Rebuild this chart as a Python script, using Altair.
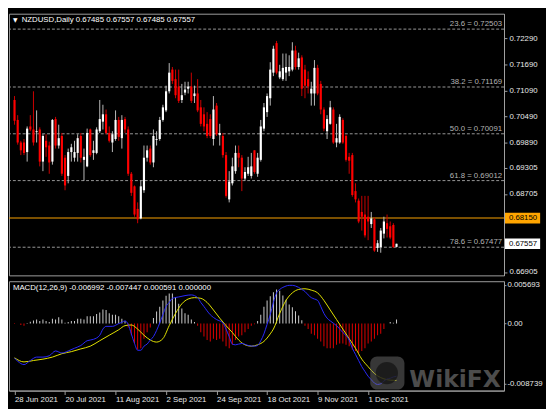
import json
import altair as alt
import pandas as pd

# ---------------- data ----------------
open_ = [
    0.7087, 0.7041, 0.6989, 0.6989, 0.6967, 0.7026, 0.7019, 0.7013, 0.7019, 0.6945,
    0.6993, 0.6982, 0.6945, 0.7043, 0.6982, 0.7004, 0.6954, 0.6912, 0.6967, 0.6954,
    0.6965, 0.7004, 0.6949, 0.6934, 0.7019, 0.6965, 0.6965, 0.7015, 0.7037, 0.7054,
    0.7011, 0.6989, 0.6997, 0.7041, 0.6999, 0.7043, 0.7019, 0.6917, 0.6888, 0.6836,
    0.6814, 0.6879, 0.6954, 0.6975, 0.6943, 0.6995, 0.6997, 0.7041, 0.7063, 0.7107,
    0.7157, 0.7135, 0.7118, 0.7087, 0.7104, 0.7113, 0.7118, 0.7096, 0.7102, 0.7070,
    0.7054, 0.7032, 0.7043, 0.6997, 0.7074, 0.7006, 0.7004, 0.6960, 0.6858, 0.6895,
    0.6923, 0.6965, 0.6954, 0.6906, 0.6917, 0.6912, 0.6971, 0.6917, 0.6949, 0.7021,
    0.7059, 0.7091, 0.7150, 0.7218, 0.7139, 0.7135, 0.7150, 0.7153, 0.7157, 0.7201,
    0.7163, 0.7185, 0.7157, 0.7135, 0.7102, 0.7102, 0.7161, 0.7124, 0.7065, 0.7015,
    0.7032, 0.7065, 0.6989, 0.6989, 0.7041, 0.7004, 0.6956, 0.6960, 0.6877, 0.6855,
    0.6829, 0.6823, 0.6818, 0.6801, 0.6812, 0.6746, 0.6748, 0.6779, 0.6803, 0.6796,
    0.6799, 0.67485]
high_ = [
    0.7096, 0.7052, 0.6993, 0.6997, 0.7026, 0.7052, 0.7107, 0.7063, 0.7024, 0.7008,
    0.7008, 0.6991, 0.7043, 0.7048, 0.7030, 0.7011, 0.6960, 0.6975, 0.6986, 0.6993,
    0.7008, 0.7011, 0.6975, 0.7021, 0.7021, 0.6993, 0.7024, 0.7087, 0.7076, 0.7065,
    0.7026, 0.7015, 0.7063, 0.7048, 0.7052, 0.7048, 0.7026, 0.6921, 0.6890, 0.6851,
    0.6901, 0.6982, 0.6982, 0.6982, 0.7019, 0.7015, 0.7048, 0.7076, 0.7120, 0.7172,
    0.7163, 0.7157, 0.7157, 0.7124, 0.7129, 0.7129, 0.7150, 0.7120, 0.7135, 0.7087,
    0.7070, 0.7059, 0.7054, 0.7096, 0.7080, 0.7032, 0.7011, 0.6967, 0.6923, 0.6954,
    0.6982, 0.6982, 0.6960, 0.6932, 0.6956, 0.6965, 0.6971, 0.6965, 0.7041, 0.7080,
    0.7102, 0.7174, 0.7212, 0.7223, 0.7168, 0.7194, 0.7194, 0.7190, 0.7220, 0.7212,
    0.7196, 0.7190, 0.7168, 0.7153, 0.7129, 0.7179, 0.7168, 0.7131, 0.7070, 0.7052,
    0.7085, 0.7070, 0.7032, 0.7054, 0.7045, 0.7008, 0.6965, 0.6965, 0.6895, 0.6860,
    0.6866, 0.6866, 0.6866, 0.6829, 0.6816, 0.6764, 0.6792, 0.6818, 0.6823, 0.6807,
    0.6803, 0.67557]
low_ = [
    0.7030, 0.6984, 0.6960, 0.6960, 0.6945, 0.7015, 0.6982, 0.6989, 0.6934, 0.6923,
    0.6956, 0.6917, 0.6938, 0.6975, 0.6975, 0.6912, 0.6879, 0.6895, 0.6945, 0.6945,
    0.6945, 0.6943, 0.6901, 0.6932, 0.6956, 0.6949, 0.6962, 0.7011, 0.7019, 0.7008,
    0.6989, 0.6967, 0.6993, 0.6993, 0.6975, 0.7011, 0.6912, 0.6866, 0.6818, 0.6803,
    0.6812, 0.6873, 0.6945, 0.6938, 0.6932, 0.6982, 0.6993, 0.7037, 0.7059, 0.7102,
    0.7124, 0.7091, 0.7080, 0.7080, 0.7098, 0.7102, 0.7080, 0.7080, 0.7059, 0.7026,
    0.7015, 0.6999, 0.6999, 0.6982, 0.7004, 0.6982, 0.6954, 0.6862, 0.6851, 0.6890,
    0.6917, 0.6932, 0.6877, 0.6901, 0.6912, 0.6906, 0.6917, 0.6910, 0.6945, 0.7015,
    0.7048, 0.7074, 0.7142, 0.7146, 0.7135, 0.7131, 0.7131, 0.7142, 0.7153, 0.7157,
    0.7157, 0.7096, 0.7091, 0.7102, 0.7074, 0.7074, 0.7098, 0.7054, 0.7015, 0.6997,
    0.7030, 0.6986, 0.6978, 0.6986, 0.6986, 0.6945, 0.6917, 0.6864, 0.6851, 0.6803,
    0.6786, 0.6770, 0.6764, 0.6792, 0.6737, 0.6737, 0.6735, 0.6768, 0.6770, 0.6766,
    0.6746, 0.67485]
close_ = [
    0.7039, 0.6989, 0.6971, 0.6965, 0.7021, 0.7019, 0.6989, 0.7015, 0.6945, 0.7004,
    0.6978, 0.6943, 0.7041, 0.6982, 0.6999, 0.6917, 0.6890, 0.6967, 0.6978, 0.6967,
    0.6999, 0.6954, 0.6956, 0.7011, 0.6960, 0.6971, 0.7019, 0.7043, 0.7054, 0.7011,
    0.6993, 0.7008, 0.7041, 0.7002, 0.7041, 0.7019, 0.6917, 0.6873, 0.6823, 0.6812,
    0.6888, 0.6954, 0.6971, 0.6943, 0.7004, 0.6997, 0.7041, 0.7070, 0.7107, 0.7150,
    0.7131, 0.7098, 0.7085, 0.7098, 0.7111, 0.7118, 0.7085, 0.7102, 0.7063, 0.7032,
    0.7026, 0.7004, 0.7004, 0.7065, 0.7008, 0.7011, 0.6960, 0.6866, 0.6899, 0.6934,
    0.6965, 0.6954, 0.6906, 0.6921, 0.6932, 0.6934, 0.6921, 0.6954, 0.7026, 0.7070,
    0.7096, 0.7157, 0.7205, 0.7150, 0.7153, 0.7161, 0.7163, 0.7163, 0.7201, 0.7163,
    0.7183, 0.7113, 0.7120, 0.7118, 0.7113, 0.7161, 0.7102, 0.7065, 0.7021, 0.7043,
    0.7070, 0.6989, 0.6999, 0.7048, 0.6989, 0.6949, 0.6947, 0.6868, 0.6858, 0.6807,
    0.6818, 0.6775, 0.6807, 0.6814, 0.6740, 0.6757, 0.6786, 0.6807, 0.6790, 0.6770,
    0.6748, 0.67557]

hist_ = [
    -0.00005, 0.0, -0.0002, -0.0003, 0.0001, 0.00028, 0.00046, 0.0006, 0.00037, 0.0006,
    0.00037, 0.00023, 0.0007, 0.0006, 0.00093, 0.0006, 0.00014, 0.00023, 0.00037, 0.00037,
    0.0007, 0.0007, 0.0006, 0.00106, 0.00106, 0.00106, 0.00139, 0.00162, 0.00208, 0.002,
    0.00153, 0.0013, 0.0013, 0.00106, 0.0007, 0.00037, -0.00056, -0.0017, -0.0029, -0.0038,
    -0.0036, -0.0022, -0.00125, -0.00056, 0.00083, 0.00176, 0.00245, 0.00338, 0.00407, 0.0044,
    0.0044, 0.00384, 0.00292, 0.00222, 0.00153, 0.0013, 0.0006, 0.00023, -0.00032, -0.00125,
    -0.0019, -0.0024, -0.0026, -0.0022, -0.0024, -0.0022, -0.0026, -0.0033, -0.0036, -0.0031,
    -0.0024, -0.0019, -0.0017, -0.00125, -0.0008, -0.00032, -0.0001, 0.00037, 0.0013, 0.00245,
    0.0034, 0.0040, 0.0046, 0.0050, 0.0048, 0.0041, 0.0035, 0.0028, 0.0024, 0.0018,
    0.0012, 0.0005, -0.00032, -0.0008, -0.0015, -0.0017, -0.0022, -0.0026, -0.0033, -0.0036,
    -0.0036, -0.0036, -0.0031, -0.0029, -0.0029, -0.0031, -0.0033, -0.0038, -0.0040, -0.0043,
    -0.0040, -0.0036, -0.0029, -0.0026, -0.0022, -0.0017, -0.0015, -0.0008, 0.0, 0.00023,
    0.00014, 0.00059]

macd_idx = [0, 1, 3, 5, 7, 9, 11, 13, 15, 17, 19, 21, 23, 25, 27, 28, 29, 31, 33, 34,
            35, 36, 37, 38, 39, 40, 41, 42, 43, 44, 45, 46, 47, 48, 49, 50, 52, 54, 56, 58,
            59, 60, 62, 64, 66, 67, 68, 69, 70, 72, 74, 76, 77, 78, 79, 80, 81, 82, 83, 84,
            85, 86, 87, 88, 89, 90, 91, 92, 93, 94, 95, 96, 97, 98, 99, 100, 102, 104, 106, 107,
            108, 109, 110, 111, 112, 113, 114, 115, 116, 117, 118, 119, 120, 121]
macd_val = [-0.00505, -0.0055, -0.0060, -0.0054, -0.0049, -0.0049, -0.0047, -0.0040, -0.0043, -0.0040,
            -0.0036, -0.0032, -0.0025, -0.0023, -0.0017, -0.0008, -0.0004, -0.0004, 0.0, 0.0002,
            0.0004, -0.0001, -0.0015, -0.0029, -0.0039, -0.0039, -0.0033, -0.0030, -0.0024, -0.0019,
            -0.0010, 0.0001, 0.0013, 0.0025, 0.0031, 0.0037, 0.0039, 0.0041, 0.0042, 0.0038,
            0.0031, 0.0025, 0.0013, 0.0006, 0.0001, -0.0008, -0.0019, -0.0030, -0.0031, -0.0029,
            -0.0032, -0.0033, -0.0032, -0.0025, -0.0015, -0.0001, 0.0013, 0.0031, 0.0045, 0.0050,
            0.0053, 0.0055, 0.0056, 0.0056, 0.0055, 0.0053, 0.0050, 0.0047, 0.0042, 0.0038,
            0.0036, 0.0034, 0.0025, 0.0015, 0.0008, 0.0004, -0.0003, -0.0013, -0.0024, -0.0036,
            -0.0045, -0.0054, -0.0063, -0.0070, -0.0077, -0.0082, -0.0087, -0.0089, -0.0088, -0.0084,
            -0.0081, -0.0080, -0.0078, -0.0077]

sig_idx = [0, 3, 6, 9, 12, 15, 18, 21, 24, 27, 30, 33, 35, 37, 39, 41, 43, 45, 47, 49,
           51, 53, 55, 57, 59, 61, 63, 65, 67, 69, 71, 73, 75, 77, 79, 81, 82, 84, 86, 88,
           90, 92, 94, 96, 98, 100, 102, 104, 106, 108, 110, 112, 114, 116, 118, 120, 121]
sig_val = [-0.0050, -0.0056, -0.0054, -0.0052, -0.0049, -0.0044, -0.0041, -0.0037, -0.0033, -0.0025,
           -0.0017, -0.0009, -0.0003, -0.0002, -0.0008, -0.0017, -0.0024, -0.0027, -0.0022, -0.0003,
           0.0015, 0.0029, 0.0036, 0.0038, 0.0037, 0.0031, 0.0020, 0.0008, -0.0003, -0.0013,
           -0.0024, -0.0031, -0.0033, -0.0031, -0.0026, -0.0015, -0.0008, 0.0015, 0.0034, 0.0045,
           0.0050, 0.0051, 0.0049, 0.0045, 0.0034, 0.0020, 0.0006, -0.0008, -0.0022, -0.0036,
           -0.0052, -0.0063, -0.0073, -0.0079, -0.0082, -0.0083, -0.0083]

fib_levels = [0.72503, 0.71169, 0.70091, 0.69012, 0.67477]
fib_labels = ["23.6 = 0.72503", "38.2 = 0.71169", "50.0 = 0.70091", "61.8 = 0.69012", "78.6 = 0.67477"]
price_ticks = [0.72290, 0.71690, 0.71090, 0.70490, 0.69890, 0.69305, 0.68705, 0.66905]
level_price = [0.68150]
level_label = ["0.68150"]
last_price = [0.67557]
last_label = ["0.67557"]
macd_ticks = [0.005693, 0.0, -0.008739]
macd_tick_labels = ["0.005693", "0.00", "-0.008739"]
date_pos = [0, 16, 32, 48, 64, 80, 96, 112]
date_labels = ["28 Jun 2021", "20 Jul 2021", "11 Aug 2021", "2 Sep 2021",
               "24 Sep 2021", "18 Oct 2021", "9 Nov 2021", "1 Dec 2021"]
title_text = ["NZDUSD,Daily  0.67485 0.67557 0.67485 0.67557"]
macd_text = ["MACD(12,26,9) -0.006992 -0.007447 0.000591 0.000000"]

assert len(open_) == len(high_) == len(low_) == len(close_) == len(hist_) == 122
assert len(macd_idx) == len(macd_val) and len(sig_idx) == len(sig_val)

# ---------------- tables ----------------
n = len(open_)
bars = pd.DataFrame({"i": list(range(n)), "o": open_, "h": high_, "l": low_, "c": close_})
bars["body"] = ["#ffffff" if c >= o else "#ff0000" for o, c in zip(open_, close_)]
bars["wick"] = ["#bdbdbd" if c >= o else "#d00000" for o, c in zip(open_, close_)]
hist = pd.DataFrame({"i": list(range(n)), "v": hist_})
hist["col"] = ["#cfcfcf" if v >= 0 else "#e00000" for v in hist_]
macd_df = pd.DataFrame({"i": macd_idx, "v": macd_val})
sig_df = pd.DataFrame({"i": sig_idx, "v": sig_val})
fib_df = pd.DataFrame({"lvl": fib_levels, "lab": fib_labels})
lvl_df = pd.DataFrame({"p": level_price, "lab": level_label, "bg": ["#ffa500"]})
last_df = pd.DataFrame({"p": last_price, "lab": last_label, "bg": ["#ffffff"]})
tags_df = pd.concat([lvl_df, last_df], ignore_index=True)

# ---------------- styling ----------------
W, H1, H2 = 507, 268, 112
FONT = "Liberation Sans"
GRAY = "#a0a0a0"
TXT = "#e8e8e8"

xs = alt.Scale(domain=[-0.21, 153.5], nice=False, zero=False)
ys = alt.Scale(domain=[0.66828, 0.72858], nice=False, zero=False)
ms = alt.Scale(domain=[-0.0098, 0.0062], nice=False, zero=False)

yax = alt.Axis(orient="right", values=price_ticks, format=".5f", title=None, grid=False,
               tickSize=3, tickColor=GRAY, domainColor=GRAY, labelColor=TXT,
               labelFont=FONT, labelFontSize=8, labelPadding=2, labelFlush=False,
               labelOverlap=False)
macd_expr = "datum.value > 0.001 ? '%s' : (datum.value < -0.001 ? '%s' : '%s')" % (
    macd_tick_labels[0], macd_tick_labels[2], macd_tick_labels[1])
max_ = alt.Axis(orient="right", values=macd_ticks, labelExpr=macd_expr, title=None, grid=False,
                tickSize=2, tickColor=GRAY, domainColor=GRAY, labelColor=TXT,
                labelFont=FONT, labelFontSize=8, labelPadding=1, labelFlush=False,
                labelOverlap=False)
date_expr = "%s[indexof(%s, datum.value)]" % (json.dumps(date_labels), json.dumps(date_pos))
xax = alt.Axis(values=date_pos, labelExpr=date_expr, title=None, grid=False,
               tickSize=4, tickColor=GRAY, domainColor=GRAY, labelColor=TXT,
               labelFont=FONT, labelFontSize=8, labelAlign="left", labelBaseline="top",
               labelPadding=1, labelFlush=False, labelOverlap=False)


def XM(f):
    return alt.X(f, type="quantitative", scale=xs, axis=None)


def YM(f):
    return alt.Y(f, type="quantitative", scale=ys, axis=yax)


def XB(f):
    return alt.X(f, type="quantitative", scale=xs, axis=xax)


def YB(f):
    return alt.Y(f, type="quantitative", scale=ms, axis=max_)


# ---------------- main price panel ----------------
fib_rules = alt.Chart(fib_df).mark_rule(color="#9a9a9a", strokeDash=[3, 2], strokeWidth=1).encode(
    y=YM("lvl"))
fib_text = alt.Chart(fib_df).mark_text(align="right", baseline="bottom", dy=-1, color="#b4b4b4",
                                       font=FONT, fontSize=8).encode(
    x=alt.value(W - 2), y=YM("lvl"), text="lab:N")
orange = alt.Chart(lvl_df).mark_rule(color="#ffa500", strokeWidth=1).encode(y=YM("p"))
wicks = alt.Chart(bars).mark_rule(strokeWidth=1).encode(
    x=XM("i"), y=YM("l"), y2="h", color=alt.Color("wick:N", scale=None))
bodies = alt.Chart(bars).mark_bar(size=2.2).encode(
    x=XM("i"), y=YM("o"), y2="c", color=alt.Color("body:N", scale=None))
tag_box = alt.Chart(tags_df).mark_rule(strokeWidth=11).encode(
    x=alt.value(W + 1), x2=alt.value(W + 37), y=YM("p"), color=alt.Color("bg:N", scale=None))
tag_text = alt.Chart(tags_df).mark_text(align="left", baseline="middle", color="#000000",
                                        font=FONT, fontSize=8).encode(
    x=alt.value(W + 5), y=YM("p"), text="lab:N")
tri = alt.Chart(pd.DataFrame({"t": ["▼"]})).mark_text(
    align="left", baseline="middle", color="#ffffff", font="DejaVu Sans", fontSize=6).encode(
    x=alt.value(4), y=alt.value(7), text="t:N")
title = alt.Chart(pd.DataFrame({"t": title_text})).mark_text(
    align="left", baseline="middle", color="#ffffff", font=FONT, fontSize=8).encode(
    x=alt.value(13), y=alt.value(7), text="t:N")

main = alt.layer(fib_rules, fib_text, orange, wicks, bodies, tag_box, tag_text, tri, title).properties(
    width=W, height=H1)

# ---------------- MACD panel ----------------
hbars = alt.Chart(hist).mark_bar(size=1).encode(
    x=XB("i"), y=YB("v"), y2=alt.datum(0), color=alt.Color("col:N", scale=None))
sig_line = alt.Chart(sig_df).mark_line(color="#e6e600", strokeWidth=1, interpolate="monotone").encode(
    x=XB("i"), y=YB("v"))
macd_line = alt.Chart(macd_df).mark_line(color="#2a2aff", strokeWidth=1, interpolate="monotone").encode(
    x=XB("i"), y=YB("v"))
macd_lab = alt.Chart(pd.DataFrame({"t": macd_text})).mark_text(
    align="left", baseline="middle", color="#ffffff", font=FONT, fontSize=8).encode(
    x=alt.value(4), y=alt.value(7), text="t:N")
logo = alt.Chart(pd.DataFrame({"k": [1]})).mark_rect(
    cornerRadius=7, color="#7a7a7a", opacity=0.45).encode(
    x=alt.value(370), x2=alt.value(405), y=alt.value(77), y2=alt.value(111))
logo_dot = alt.Chart(pd.DataFrame({"k": [1]})).mark_point(
    shape="circle", filled=True, size=520, color="#141414", opacity=0.75).encode(
    x=alt.value(387), y=alt.value(94))
wm = alt.Chart(pd.DataFrame({"t": ["WikiFX"]})).mark_text(
    align="left", baseline="alphabetic", color="#8a8a8a", opacity=0.55,
    font="DejaVu Sans", fontSize=24, fontWeight="bold").encode(
    x=alt.value(410), y=alt.value(108), text="t:N")

macd = alt.layer(hbars, sig_line, macd_line, macd_lab, logo, logo_dot, wm).properties(
    width=W, height=H2)

chart = alt.vconcat(main, macd, spacing=3).properties(
    padding=0, background="#000000").configure_view(stroke=GRAY, strokeWidth=1)

chart.save("out.html", embed_options={"renderer": "svg", "actions": False})
